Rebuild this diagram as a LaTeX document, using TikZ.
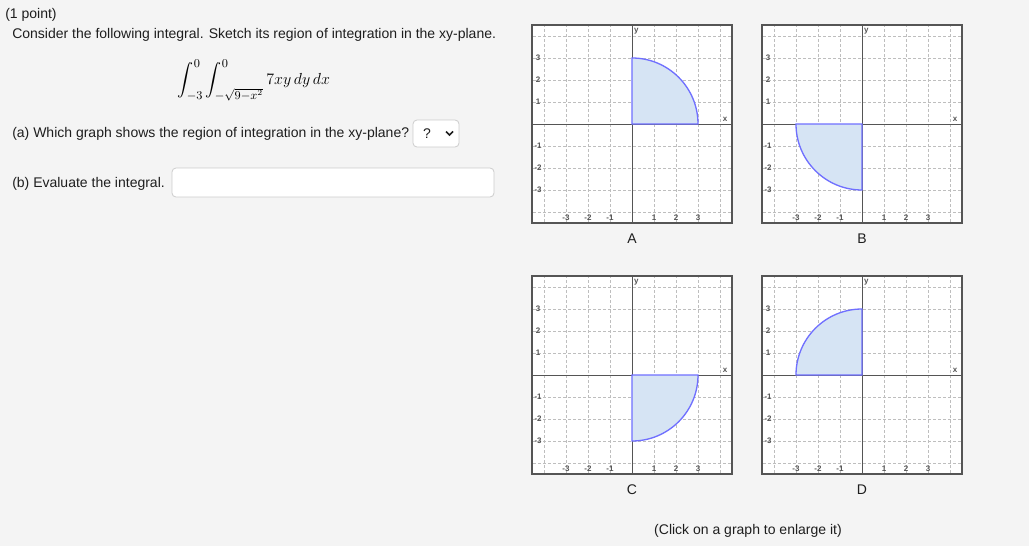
\documentclass[tikz,border=0pt]{standalone}
\usepackage{fontspec}
\setmainfont{Liberation Sans}
\usepackage{amsmath}
\usetikzlibrary{positioning}

\definecolor{pagebg}{RGB}{244,244,244}
\definecolor{framegray}{RGB}{85,85,85}
\definecolor{gridgray}{RGB}{190,190,190}
\definecolor{regionfill}{RGB}{214,228,244}
\definecolor{regionline}{RGB}{112,112,255}
\definecolor{boxgray}{RGB}{204,204,204}
\definecolor{textgray}{RGB}{30,30,30}

\begin{document}
\begin{tikzpicture}[
			x=0.75pt, y=-0.75pt,
			txt/.style = {anchor=base west, inner sep=0pt, font=\fontsize{10.5}{12}\selectfont, text=textgray},
			caption/.style = {anchor=base, inner sep=0pt, font=\fontsize{10.5}{12}\selectfont, text=textgray},
			inbox/.style = {draw=boxgray, fill=white, rounded corners=3pt, line width=0.6pt, inner sep=0pt},
			panel/.style = {draw=framegray, fill=white, line width=0.9pt, inner sep=0pt, minimum width=150pt, minimum height=148.5pt},
			gridline/.style = {draw=gridgray, dash pattern=on 2.25pt off 1.5pt, line width=0.5pt},
			axis/.style = {draw=framegray, line width=0.7pt},
			tick/.style = {inner sep=0pt, font=\fontsize{6}{7}\selectfont\bfseries, text=framegray},
			region/.style = {fill=regionfill, draw=regionline, line width=1pt}
		]
		\fill[pagebg] (0,0) rectangle (1029,546);
		\useasboundingbox (0,0) rectangle (1029,546);
		% Question text on the left.
		\node[txt] (points) at (5,18) {(1 point)};
		\node[txt] (consider) at (12,38) {Consider the following integral. Sketch its region of integration in the xy-plane.};
		\node[inner sep=0pt, font=\fontsize{13}{15}\selectfont] (integral) at (254,80) {$\displaystyle\int_{-3}^{0}\int_{-\sqrt{9-x^2}}^{0} 7xy\,dy\,dx$};
		\node[txt] (parta) at (12,137) {(a) Which graph shows the region of integration in the xy-plane?};
		\node[inbox, minimum width=34.5pt, minimum height=20.25pt] (choice) at (436,133.5) {};
		\node[caption] (qmark) at (427,138) {?};
		\coordinate (chevl) at (446,131.5);
		\coordinate (chevm) at (449.5,135);
		\coordinate (chevr) at (453,131.5);
		\draw[textgray, line width=1.1pt] (chevl) -- (chevm) -- (chevr);
		\node[txt] (partb) at (12,187) {(b) Evaluate the integral.};
		\node[inbox, minimum width=241.5pt, minimum height=21.75pt] (answer) at (333,182.5) {};
		% The four graphs.
		\foreach \px/\py/\nm/\a in {632/124/A/0, 862/124/B/180, 632/375/C/270, 862/375/D/90} {
			\begin{scope}[shift={(\px,\py)}, x=16.5pt, y=16.5pt]
				\node[panel] (frame\nm) at (0,0) {};
				\draw[gridline, step=1] (-4.5,-4.45) grid (4.5,4.45);
				\draw[axis] (-4.545,0) -- (4.545,0);
				\draw[axis] (0,-4.5) -- (0,4.5);
				\foreach \t [count=\i] in {-3,-2,-1,1,2,3} {
					\node[tick] (xt\nm\i) at (\t,-4.27) {\t};
					\node[tick] (yt\nm\i) at (-4.27,\t) {\t};
				}
				\node[tick] (ylab\nm) at (0.2,4.23) {y};
				\node[tick] (xlab\nm) at (4.23,0.2) {x};
				\draw[region] (0,0) -- (\a:3) arc[start angle=\a, end angle=\a+90, radius=3] -- cycle;
				\node[caption] (cap\nm) at (0,-5.45) {\nm};
			\end{scope}
		}
		\node[caption] (enlarge) at (748,534) {(Click on a graph to enlarge it)};
	\end{tikzpicture}
\end{document}
